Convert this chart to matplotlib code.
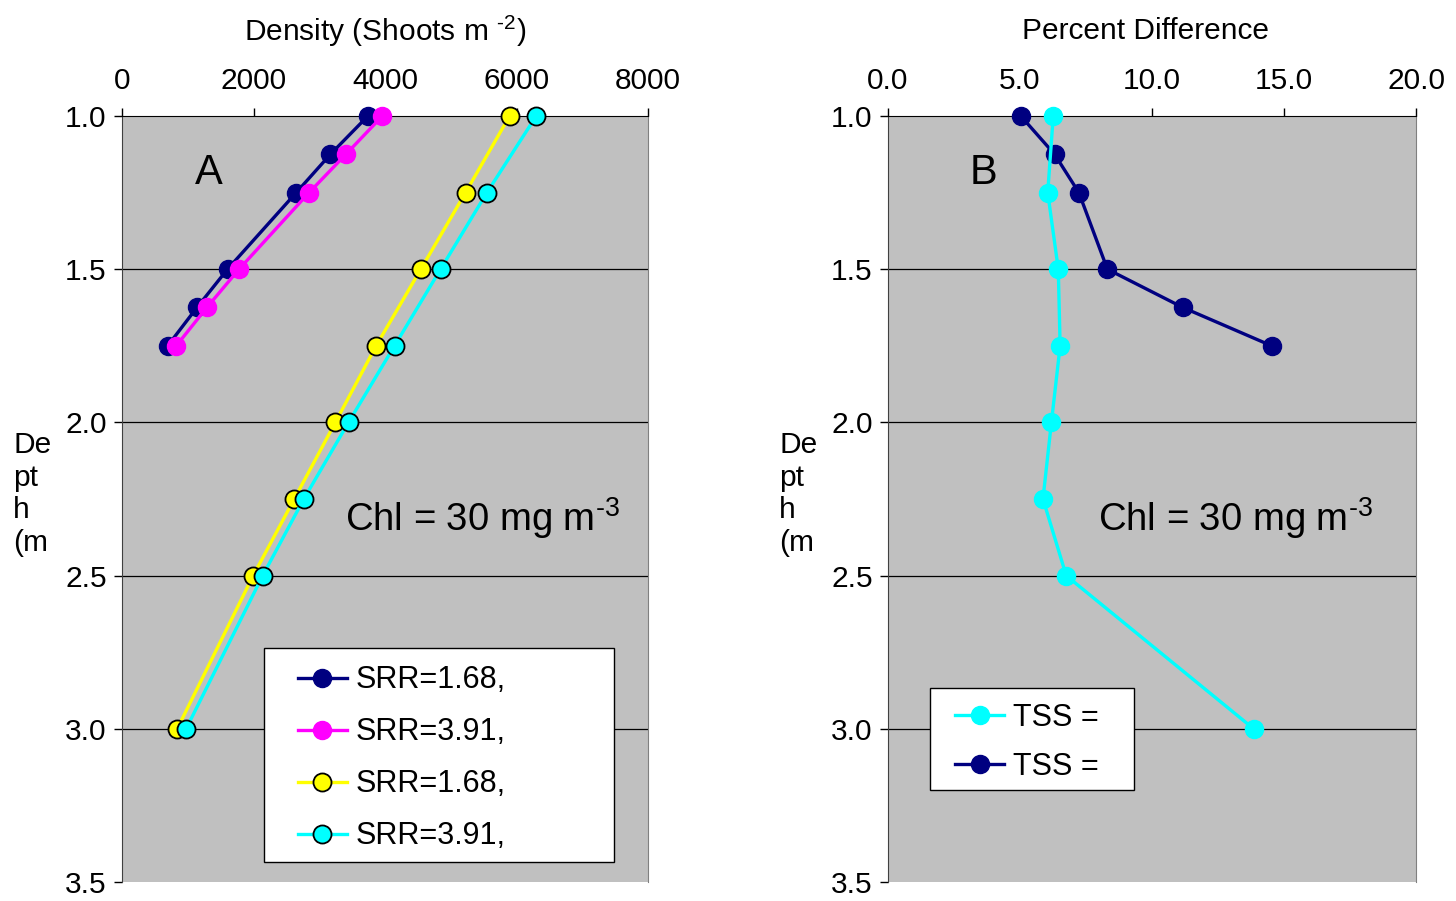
import matplotlib
matplotlib.use("Agg")
import matplotlib.pyplot as plt
from matplotlib.patches import Rectangle

plt.rcParams['font.family'] = ['Liberation Sans', 'DejaVu Sans']
plt.rcParams['mathtext.fontset'] = 'custom'
plt.rcParams['mathtext.rm'] = 'Liberation Sans'
plt.rcParams['mathtext.it'] = 'Liberation Sans'
plt.rcParams['mathtext.default'] = 'regular'

# panel A data: depth (m) vs shoot density
depth_short = [1.0, 1.125, 1.25, 1.5, 1.625, 1.75]
depth_long = [1.0, 1.25, 1.5, 1.75, 2.0, 2.25, 2.5, 3.0]
dens_navy = [3740, 3170, 2650, 1605, 1140, 695]
dens_magenta = [3960, 3405, 2845, 1780, 1290, 825]
dens_yellow = [5895, 5225, 4545, 3865, 3245, 2620, 1995, 840]
dens_cyan = [6300, 5550, 4845, 4145, 3445, 2765, 2140, 975]
labels_a = ["SRR=1.68,", "SRR=3.91,", "SRR=1.68,", "SRR=3.91,"]

# panel B data: percent difference
pct_navy = [5.03, 6.31, 7.23, 8.31, 11.17, 14.53]
pct_cyan = [6.26, 6.05, 6.45, 6.52, 6.19, 5.87, 6.75, 13.85]
labels_b = ["TSS =", "TSS ="]

NAVY = "#000080"
MAGENTA = "#ff00ff"
YELLOW = "#ffff00"
CYAN = "#00ffff"
FS = 21.5
LEG_FS = 22

fig = plt.figure(figsize=(14.56, 9.01), dpi=100)
axA = fig.add_axes([122 / 1456, 19 / 901, 526 / 1456, 766 / 901])
axB = fig.add_axes([888 / 1456, 19 / 901, 528 / 1456, 766 / 901])


def style_axes(ax, xmax, xticks, fmt):
    ax.set_facecolor("#c0c0c0")
    ax.set_ylim(3.5, 1.0)
    ax.set_xlim(0, xmax)
    yt = [1.0, 1.5, 2.0, 2.5, 3.0, 3.5]
    ax.set_yticks(yt)
    ax.set_yticklabels(["%.1f" % v for v in yt])
    ax.set_xticks(xticks)
    ax.set_xticklabels([fmt % v for v in xticks])
    ax.xaxis.tick_top()
    ax.tick_params(axis='x', direction='out', length=6, width=1, pad=9, labelsize=FS)
    ax.tick_params(axis='y', direction='out', length=6, width=1, pad=5, labelsize=FS)
    for y in [1.5, 2.0, 2.5, 3.0]:
        ax.axhline(y, color="black", lw=0.9, zorder=1)
    ax.spines['bottom'].set_visible(False)
    ax.spines['top'].set_color("black")
    ax.spines['left'].set_color("#404040")
    ax.spines['right'].set_color("#808080")


def boxed_legend(ax, frame, anchor, spacing):
    # white box drawn separately so the entries can sit where the original has them
    ax.add_patch(Rectangle(frame[:2], frame[2], frame[3], transform=ax.transAxes,
                           facecolor="white", edgecolor="black", lw=1.0,
                           zorder=9, clip_on=False))
    leg = ax.legend(loc='upper left', bbox_to_anchor=anchor, fontsize=LEG_FS,
                    frameon=False, handlelength=1.6, handletextpad=0.28,
                    labelspacing=spacing, borderpad=0, borderaxespad=0)
    leg.set_zorder(10)
    return leg


style_axes(axA, 8000, [0, 2000, 4000, 6000, 8000], "%d")
style_axes(axB, 20, [0, 5, 10, 15, 20], "%.1f")

# panel A
axA.plot(dens_navy, depth_short, color=NAVY, lw=2.4, marker='o', ms=13,
         mec=NAVY, label=labels_a[0], clip_on=False, zorder=3)
axA.plot(dens_magenta, depth_short, color=MAGENTA, lw=2.4, marker='o', ms=13,
         mec=MAGENTA, label=labels_a[1], clip_on=False, zorder=4)
axA.plot(dens_yellow, depth_long, color=YELLOW, lw=2.4, marker='o', ms=13,
         mec="black", mew=1.3, label=labels_a[2], clip_on=False, zorder=5)
axA.plot(dens_cyan, depth_long, color=CYAN, lw=2.4, marker='o', ms=13,
         mec="black", mew=1.3, label=labels_a[3], clip_on=False, zorder=6)

axA.text(0.165, 0.925, "A", transform=axA.transAxes, fontsize=30,
         ha='center', va='center')
axA.text(0.424, 0.475, r"Chl = 30 mg m${}^{\text{-3}}$", transform=axA.transAxes,
         fontsize=27.5, ha='left', va='center')

boxed_legend(axA, (0.270, 0.026, 0.665, 0.279), (0.3346, 0.283), 0.72)

# panel B
axB.plot(pct_cyan, depth_long, color=CYAN, lw=2.4, marker='o', ms=13,
         mec=CYAN, label=labels_b[0], clip_on=False, zorder=4)
axB.plot(pct_navy, depth_short, color=NAVY, lw=2.4, marker='o', ms=13,
         mec=NAVY, label=labels_b[1], clip_on=False, zorder=3)

axB.text(0.18, 0.925, "B", transform=axB.transAxes, fontsize=30,
         ha='center', va='center')
axB.text(0.398, 0.475, r"Chl = 30 mg m${}^{\text{-3}}$", transform=axB.transAxes,
         fontsize=27.5, ha='left', va='center')

boxed_legend(axB, (0.0795, 0.120, 0.386, 0.133), (0.127, 0.2335), 0.62)

# titles above the top axes
fig.text(385 / 1456, 1 - 31 / 901, r"Density (Shoots m ${}^{\text{-2}}$)", fontsize=FS,
         ha='center', va='center')
fig.text(1145 / 1456, 1 - 31 / 901, "Percent Difference", fontsize=FS,
         ha='center', va='center')

# truncated y axis labels
for xpx in [13, 779]:
    fig.text(xpx / 1456, 1 - 494 / 901, "De\npt\nh\n(m", fontsize=FS,
             ha='left', va='center', linespacing=1.2)

fig.savefig("out.png", dpi=100)
